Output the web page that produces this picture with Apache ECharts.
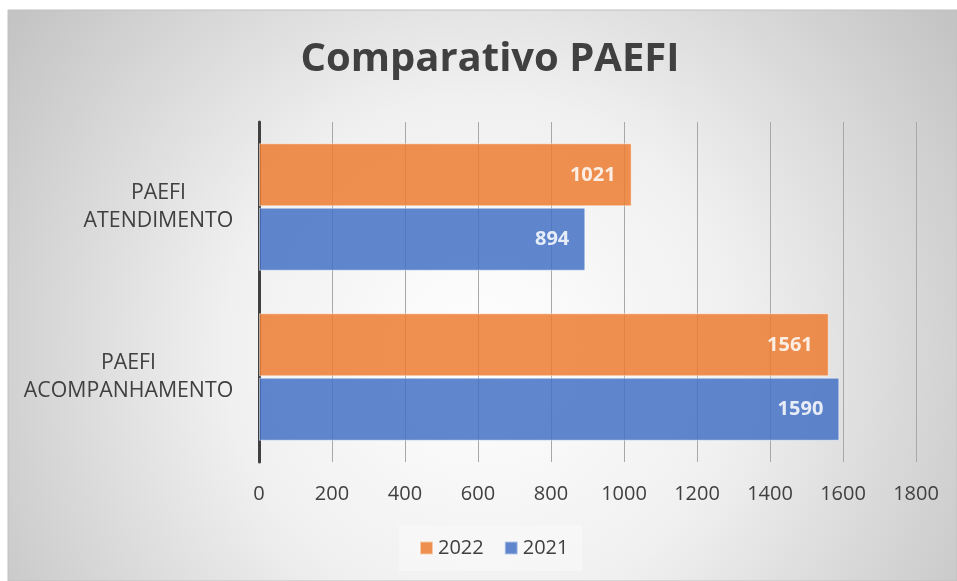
<!DOCTYPE html>
<html>
<head>
<meta charset="utf-8">
<script src="https://cdn.jsdelivr.net/npm/echarts@6/dist/echarts.min.js"></script>
<style>
  html, body { margin: 0; padding: 0; background: #ffffff; }
  #chart { width: 957px; height: 581px; }
</style>
</head>
<body>
<div id="chart"></div>
<script>
// Categories (top to bottom) and yearly totals
const categories = ['PAEFI\nATENDIMENTO', 'PAEFI\nACOMPANHAMENTO'];
const values2022 = [1021, 1561];
const values2021 = [894, 1590];
const seriesNames = ['2022', '2021'];
const xTicks = [0, 200, 400, 600, 800, 1000, 1200, 1400, 1600, 1800];

const chart = echarts.init(document.getElementById('chart'), null, { renderer: 'canvas' });

const textColor = '#404040';
const font = '"Open Sans", "Noto Sans", sans-serif';
const catFontSize = 21.3;

// Category labels: block right-aligned against the axis, lines centred inside it.
const measureCtx = document.createElement('canvas').getContext('2d');
measureCtx.font = catFontSize + 'px ' + font;
const catRich = {};
categories.forEach(function (c, i) {
  const w = Math.max.apply(null, c.split('\n').map(function (s) {
    return measureCtx.measureText(s).width;
  }));
  catRich['c' + i] = {
    width: Math.ceil(w) + 1,
    align: 'center',
    fontFamily: font,
    fontSize: catFontSize,
    lineHeight: 28,
    color: textColor
  };
});

function barSeries(name, data, color) {
  return {
    name: name,
    type: 'bar',
    data: data,
    barGap: '2%',
    barCategoryGap: '25%',
    itemStyle: {
      color: color,
      opacity: 0.85,
      borderColor: 'rgba(255,255,255,0.6)',
      borderWidth: 1
    },
    label: {
      show: true,
      position: 'insideRight',
      distance: 16,
      color: '#ffffff',
      fontFamily: font,
      fontWeight: 'bold',
      fontSize: 20
    },
    z: 3
  };
}

chart.setOption({
  animation: false,
  backgroundColor: 'transparent',
  graphic: [{
    type: 'rect',
    z: -10,
    silent: true,
    shape: { x: 8, y: 10, width: 949, height: 571 },
    style: {
      fill: {
        type: 'radial', x: 0.5, y: 0.6, r: 1.0,
        colorStops: [
          { offset: 0, color: '#ffffff' },
          { offset: 0.45, color: '#f0f0f0' },
          { offset: 1, color: '#c4c4c4' }
        ]
      },
      stroke: '#c0c0c0',
      lineWidth: 1
    }
  }],
  title: {
    text: 'Comparativo PAEFI',
    left: 485,
    textAlign: 'center',
    top: 35,
    textStyle: {
      fontFamily: font,
      fontWeight: 'bold',
      fontSize: 40,
      color: textColor
    }
  },
  legend: {
    data: seriesNames,
    left: 399,
    top: 525,
    padding: [13, 14, 13, 20],
    backgroundColor: 'rgba(248,248,248,0.7)',
    itemWidth: 13,
    itemHeight: 13,
    itemGap: 20,
    icon: 'rect',
    textStyle: { fontFamily: font, fontSize: 20, color: textColor }
  },
  grid: {
    left: 259,
    right: 41,
    top: 122,
    bottom: 119,
    containLabel: false
  },
  xAxis: {
    type: 'value',
    min: xTicks[0],
    max: xTicks[xTicks.length - 1],
    interval: 200,
    axisLine: { show: false },
    axisTick: { show: false },
    splitLine: { show: true, lineStyle: { color: '#a8a8a8', width: 1 } },
    axisLabel: {
      margin: 22,
      fontFamily: font,
      fontSize: 20,
      color: textColor,
      formatter: function (v) { return String(v); }
    }
  },
  yAxis: {
    type: 'category',
    inverse: true,
    data: categories,
    axisLine: { show: true, lineStyle: { color: '#404040', width: 3 } },
    axisTick: { show: false },
    axisLabel: {
      align: 'right',
      margin: 25,
      fontFamily: font,
      fontSize: catFontSize,
      lineHeight: 28,
      color: textColor,
      rich: catRich,
      formatter: function (value, index) {
        return value.split('\n').map(function (s) {
          return '{c' + index + '|' + s + '}';
        }).join('\n');
      }
    }
  },
  series: [
    barSeries(seriesNames[0], values2022, '#ED7D31'),
    barSeries(seriesNames[1], values2021, '#4472C4')
  ]
});
</script>
</body>
</html>
